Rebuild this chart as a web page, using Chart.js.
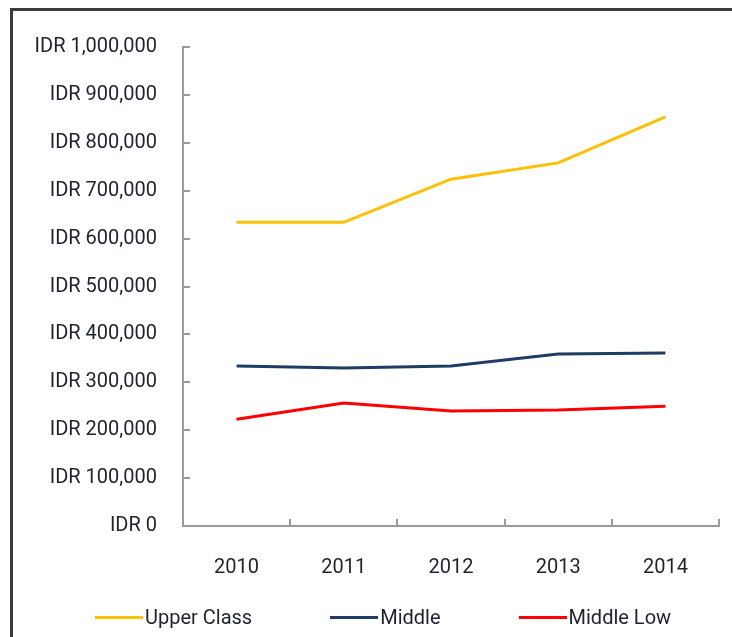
<!DOCTYPE html>
<html>
<head>
<meta charset="utf-8">
<script src="https://cdn.jsdelivr.net/npm/chart.js@4.4.1/dist/chart.umd.min.js"></script>
<style>
  html, body { margin: 0; padding: 0; background: #fff; overflow: hidden; }
  #wrap { position: relative; width: 732px; height: 637px; }
  #frame {
    position: absolute; left: 10px; top: 8px; width: 730px; height: 626px;
    border-left: 3px solid #3c3c3c; border-top: 3px solid #3c3c3c;
    border-bottom: 1px solid #ddd;
  }
  canvas { position: absolute; left: 0; top: 0; }
  #legend {
    position: absolute; left: 95px; top: 605px; height: 24px;
    display: flex; align-items: center; gap: 78px;
    font: 20px Roboto, 'Noto Sans', sans-serif; color: #1e2230;
  }
  #legend .item { display: flex; align-items: center; white-space: nowrap; }
  #legend .swatch { width: 48px; height: 3px; margin-right: 2px; }
</style>
</head>
<body>
<div id="wrap">
  <div id="frame"></div>
  <canvas id="c" width="732" height="637"></canvas>
  <div id="legend"></div>
</div>
<script>
// ─── Data ─────────────────────────────────────────────────────────────────────
const years       = ['2010', '2011', '2012', '2013', '2014'];
const upperClass  = [634000, 634000, 724000, 758000, 854000];
const middle      = [334000, 330000, 334000, 359000, 361000];
const middleLow   = [223000, 257000, 240000, 242000, 250000];
const yTicks      = [0, 100000, 200000, 300000, 400000, 500000, 600000, 700000, 800000, 900000, 1000000];

const COLORS = {
  upper:  '#ffc000',
  middle: '#1f3c64',
  low:    '#ff0000',
  axis:   '#9a9a9a',
  text:   '#1e2230',
};

const FONT = { family: "Roboto, 'Noto Sans', sans-serif", size: 20 };

const fmtIDR = v => 'IDR ' + v.toLocaleString('en-US');

// inward tick marks (y: to the right, x: upward at category boundaries)
const innerTicks = {
  id: 'innerTicks',
  afterDraw(chart) {
    const { ctx, chartArea, scales: { x, y } } = chart;
    ctx.save();
    ctx.strokeStyle = COLORS.axis;
    ctx.lineWidth = 2;
    ctx.beginPath();
    y.ticks.forEach(t => {
      const py = Math.round(y.getPixelForValue(t.value));
      ctx.moveTo(chartArea.left, py);
      ctx.lineTo(chartArea.left + 7, py);
    });
    for (let i = 1; i <= years.length; i++) {
      const px = i === years.length
        ? chartArea.right
        : Math.round((x.getPixelForValue(i - 1) + x.getPixelForValue(i)) / 2);
      ctx.moveTo(px, chartArea.bottom);
      ctx.lineTo(px, chartArea.bottom - 7);
    }
    ctx.stroke();
    ctx.restore();
  },
};

const line = (label, data, color) => ({
  label, data,
  borderColor: color,
  backgroundColor: color,
  borderWidth: 3,
  pointRadius: 0,
  tension: 0,
  fill: false,
});

const chart = new Chart(document.getElementById('c'), {
  type: 'line',
  data: {
    labels: years,
    datasets: [
      line('Upper Class', upperClass, COLORS.upper),
      line('Middle',      middle,     COLORS.middle),
      line('Middle Low',  middleLow,  COLORS.low),
    ],
  },
  options: {
    responsive: false,
    animation: false,
    devicePixelRatio: 1,
    layout: { padding: { left: 0, top: 47, right: 13, bottom: 49 } },
    plugins: {
      tooltip: { enabled: false },
      legend: { display: false },
    },
    scales: {
      x: {
        offset: true,
        grid: { display: false, drawTicks: false },
        border: { display: true, color: COLORS.axis, width: 2 },
        ticks: { font: FONT, color: COLORS.text, padding: 30 },
        afterFit: s => { s.height = 62; },
      },
      y: {
        min: 0,
        max: 1000000,
        afterBuildTicks: s => { s.ticks = yTicks.map(v => ({ value: v })); },
        grid: { display: false, drawTicks: false },
        border: { display: true, color: COLORS.axis, width: 2 },
        ticks: { font: FONT, color: COLORS.text, padding: 26, callback: v => fmtIDR(v) },
        afterFit: s => { s.width = 183; },
      },
    },
  },
  plugins: [innerTicks],
});

// ─── HTML legend built from the datasets ─────────────────────────────────────
document.getElementById('legend').innerHTML = chart.data.datasets.map(ds =>
  `<span class="item"><span class="swatch" style="background:${ds.borderColor}"></span>${ds.label}</span>`
).join('');
</script>
</body>
</html>
